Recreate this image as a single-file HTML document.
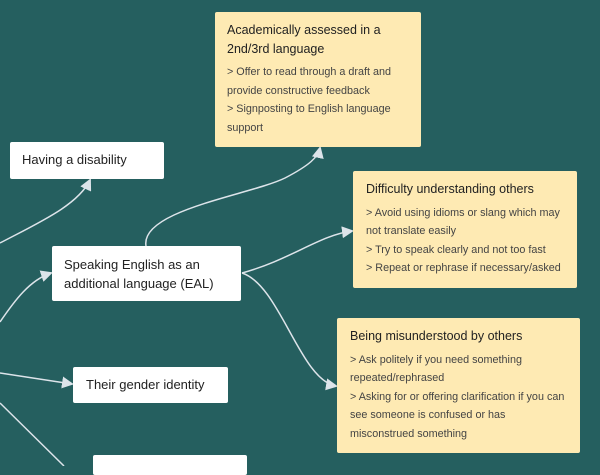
<!DOCTYPE html>
<html><head><meta charset="utf-8"><style>
*{margin:0;padding:0;box-sizing:border-box}
body{width:600px;height:466px;overflow:hidden;background:#255f5f;font-family:"Liberation Sans",sans-serif;position:relative}
.b{position:absolute;background:#fff;color:#222;font-size:13px;border-radius:2px;white-space:nowrap}
.y{position:absolute;background:#feeab3;border-radius:2px;color:#333;white-space:nowrap}
.y h{display:block;font-size:12.5px;color:#222;line-height:18.5px;margin-bottom:5px}
.y p{font-size:10.8px;line-height:18.6px;color:#444}
svg{position:absolute;left:0;top:0}
</style></head><body>
<svg width="600" height="466" viewBox="0 0 600 466">
<defs><marker id="a" markerWidth="12" markerHeight="12" refX="10" refY="6" orient="auto" markerUnits="userSpaceOnUse"><path d="M0,0 L12,6 L0,12 z" fill="#dde4ea"/></marker></defs>
<g fill="none" stroke="#dde4ea" stroke-width="1.5">
<path d="M0,243 C40,222 78,205 90,180" marker-end="url(#a)"/>
<path d="M0,322 C15,300 30,280 51,273" marker-end="url(#a)"/>
<path d="M0,373 L72,384" marker-end="url(#a)"/>
<path d="M0,403 L64,466"/>
<path d="M146,246 C140,210 250,195 285,178 C310,165 318,157 320,148" marker-end="url(#a)"/>
<path d="M242,273 C290,260 320,235 352,231" marker-end="url(#a)"/>
<path d="M242,273 C280,285 300,380 336,386" marker-end="url(#a)"/>
</g></svg>
<div class="b" style="left:10px;top:142px;width:154px;height:37px;padding:10px 12px">Having a disability</div>
<div class="b" style="left:52px;top:246px;width:189px;height:55px;padding:9px 12px;line-height:19px">Speaking English as an<br>additional language (EAL)</div>
<div class="b" style="left:73px;top:367px;width:155px;height:36px;padding:10px 13px">Their gender identity</div>
<div class="b" style="left:93px;top:455px;width:154px;height:20px"></div>
<div class="y" style="left:215px;top:12px;width:206px;height:135px;padding:9px 12px">
<h>Academically assessed in a<br>2nd/3rd language</h>
<p>&gt; Offer to read through a draft and<br>provide constructive feedback<br>&gt; Signposting to English language<br>support</p></div>
<div class="y" style="left:353px;top:171px;width:224px;height:117px;padding:9px 13px">
<h>Difficulty understanding others</h>
<p>&gt; Avoid using idioms or slang which may<br>not translate easily<br>&gt; Try to speak clearly and not too fast<br>&gt; Repeat or rephrase if necessary/asked</p></div>
<div class="y" style="left:337px;top:318px;width:243px;height:135px;padding:9px 13px">
<h>Being misunderstood by others</h>
<p>&gt; Ask politely if you need something<br>repeated/rephrased<br>&gt; Asking for or offering clarification if you can<br>see someone is confused or has<br>misconstrued something</p></div>
</body></html>
